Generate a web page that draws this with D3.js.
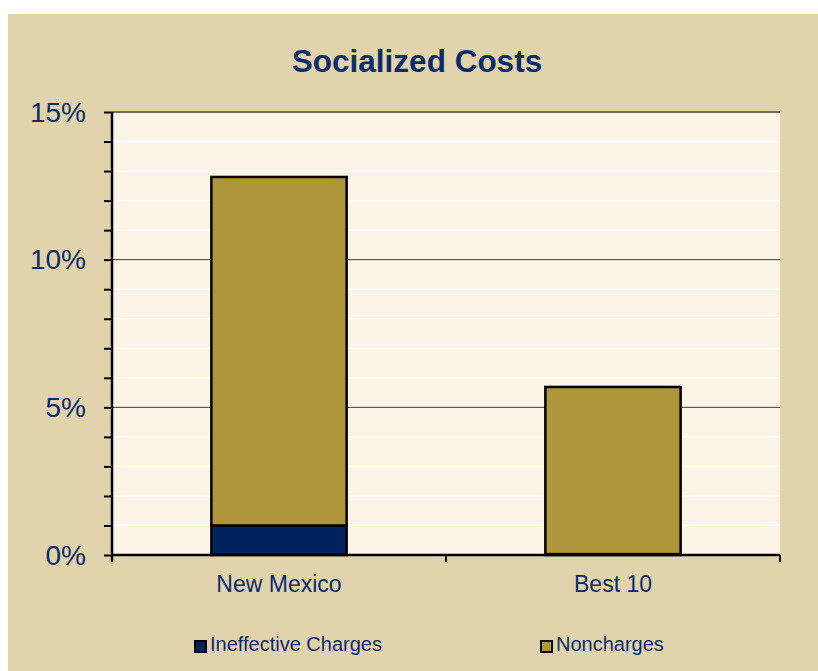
<!DOCTYPE html>
<html>
<head>
<meta charset="utf-8">
<script src="https://cdn.jsdelivr.net/npm/d3@7"></script>
<style>
  body { margin: 0; background: #fff; }
  svg { display: block; font-family: "Liberation Sans", Arial, sans-serif; }
</style>
</head>
<body>
<div id="chart"></div>
<script>
// Chart data
const categories = ["New Mexico", "Best 10"];
const seriesNames = ["Ineffective Charges", "Noncharges"];
const ineffective = [1.0, 0.03];
const noncharges = [11.8, 5.66];
const yTicks = [0, 5, 10, 15];

const colors = {
    bg: "#e1d4ad",
    plot: "#fcf4e7",
    navy: "#002360",
    gold: "#b0963a",
    text: "#0b2b6b"
};

const W = 818, H = 671;
const plot = { left: 112, right: 780, top: 112, bottom: 555 };

const svg = d3.select("#chart").append("svg")
    .attr("width", W)
    .attr("height", H);

// Outer background
svg.append("rect")
    .attr("x", 8).attr("y", 14)
    .attr("width", W - 8).attr("height", H - 14)
    .attr("fill", colors.bg);

// Title
svg.append("text")
    .attr("x", 417).attr("y", 72)
    .attr("text-anchor", "middle")
    .style("font-size", "31.5px")
    .style("font-weight", "bold")
    .style("fill", colors.text)
    .text("Socialized Costs");

const x = d3.scaleBand()
    .domain(categories)
    .range([plot.left, plot.right])
    .paddingInner(0.595)
    .paddingOuter(0.2975);

const y = d3.scaleLinear()
    .domain([0, 15])
    .range([plot.bottom, plot.top]);

// Plot area
svg.append("rect")
    .attr("x", plot.left).attr("y", plot.top)
    .attr("width", plot.right - plot.left)
    .attr("height", plot.bottom - plot.top)
    .attr("fill", colors.plot);

// Minor gridlines (white, every 1%)
const minor = d3.range(1, 15).filter(d => d % 5 !== 0);
svg.append("g")
    .selectAll("line")
    .data(minor)
    .enter()
    .append("line")
    .attr("x1", plot.left).attr("x2", plot.right)
    .attr("y1", d => y(d)).attr("y2", d => y(d))
    .attr("stroke", "#ffffff")
    .attr("stroke-width", 1.2);

// Major gridlines
svg.append("g")
    .selectAll("line")
    .data(yTicks.filter(d => d > 0))
    .enter()
    .append("line")
    .attr("x1", plot.left).attr("x2", plot.right)
    .attr("y1", d => y(d)).attr("y2", d => y(d))
    .attr("stroke", d => d === 15 ? "#6e6a5e" : "#3a3a3a")
    .attr("stroke-width", d => d === 15 ? 2 : 1);

// Stacked bars
const rows = categories.map((c, i) => ({ cat: c, ineffective: ineffective[i], noncharges: noncharges[i] }));
const stack = d3.stack().keys(["ineffective", "noncharges"])(rows);
const fills = [colors.navy, colors.gold];

stack.forEach((layer, li) => {
    svg.append("g")
        .selectAll("rect")
        .data(layer)
        .enter()
        .append("rect")
        .attr("x", d => x(d.data.cat))
        .attr("y", d => y(d[1]))
        .attr("width", x.bandwidth())
        .attr("height", d => y(d[0]) - y(d[1]))
        .attr("fill", fills[li])
        .attr("stroke", "#000")
        .attr("stroke-width", 2.5);
});

// Y axis
const yAxis = svg.append("g")
    .attr("transform", `translate(${plot.left},0)`)
    .call(d3.axisLeft(y).tickValues(d3.range(0, 16)).tickSize(8).tickFormat(""));
yAxis.select(".domain").remove();
yAxis.selectAll(".tick line").attr("stroke", "#000").attr("stroke-width", 2);
svg.append("line")
    .attr("x1", plot.left).attr("x2", plot.left)
    .attr("y1", plot.top).attr("y2", plot.bottom + 7)
    .attr("stroke", "#000").attr("stroke-width", 2.5);

svg.append("g")
    .selectAll("text")
    .data(yTicks)
    .enter()
    .append("text")
    .attr("x", 86)
    .attr("y", d => y(d))
    .attr("dy", "0.35em")
    .attr("text-anchor", "end")
    .style("font-size", "28px")
    .style("fill", colors.text)
    .text(d => d + "%");

// X axis
svg.append("line")
    .attr("x1", plot.left).attr("x2", plot.right)
    .attr("y1", plot.bottom).attr("y2", plot.bottom)
    .attr("stroke", "#000").attr("stroke-width", 2.5);

const bounds = [plot.left, (plot.left + plot.right) / 2, plot.right];
svg.append("g")
    .selectAll("line")
    .data(bounds)
    .enter()
    .append("line")
    .attr("x1", d => d).attr("x2", d => d)
    .attr("y1", plot.bottom).attr("y2", plot.bottom + 7)
    .attr("stroke", "#000").attr("stroke-width", 2);

svg.append("g")
    .selectAll("text")
    .data(categories)
    .enter()
    .append("text")
    .attr("x", d => x(d) + x.bandwidth() / 2)
    .attr("y", 592)
    .attr("text-anchor", "middle")
    .style("font-size", "23px")
    .style("fill", colors.text)
    .text(d => d);

// Legend
const legendX = [194, 540];
const legend = svg.append("g")
    .selectAll("g")
    .data(seriesNames)
    .enter()
    .append("g")
    .attr("transform", (d, i) => `translate(${legendX[i]},640)`);

legend.append("rect")
    .attr("x", 1).attr("y", 1)
    .attr("width", 11).attr("height", 11)
    .attr("fill", (d, i) => fills[i])
    .attr("stroke", "#000")
    .attr("stroke-width", 2);

legend.append("text")
    .attr("x", 16)
    .attr("y", 11)
    .style("font-size", "20px")
    .style("fill", colors.text)
    .text(d => d);
</script>
</body>
</html>
